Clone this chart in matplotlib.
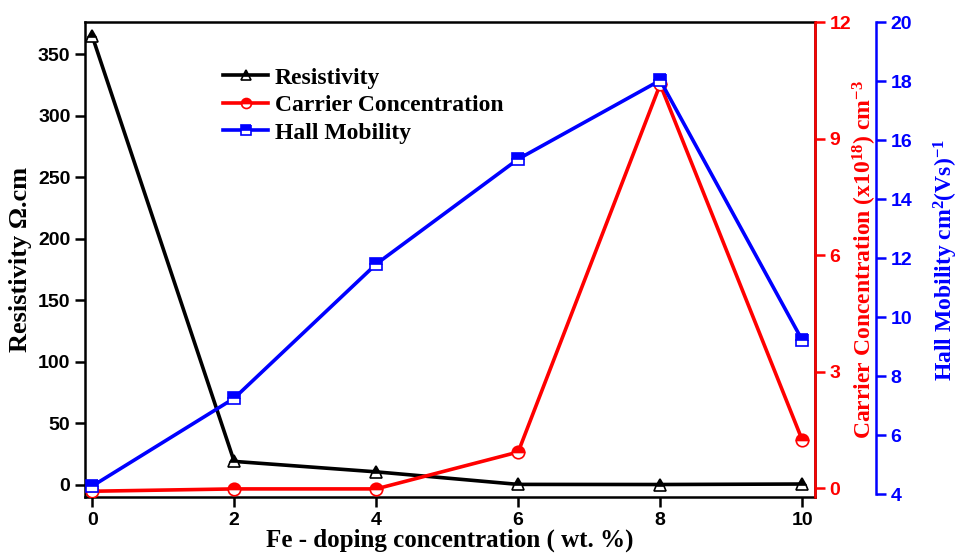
import matplotlib
matplotlib.use('Agg')
import matplotlib.pyplot as plt

# Fe doping levels (wt. %)
doping = [0, 2, 4, 6, 8, 10]

resistivity = [365, 19, 10.5, 0.3, 0.2, 0.6]          # ohm.cm
carrier_conc = [-0.08, -0.02, -0.02, 0.93, 10.4, 1.24]  # x10^18 cm^-3
hall_mobility = [4.27, 7.25, 11.8, 15.36, 18.03, 9.22]  # cm^2/Vs

plt.rcParams['font.family'] = 'Liberation Sans'
plt.rcParams['font.weight'] = 'bold'
plt.rcParams['font.size'] = 14
plt.rcParams['mathtext.fontset'] = 'custom'
plt.rcParams['mathtext.rm'] = 'Liberation Serif:bold'
plt.rcParams['mathtext.bf'] = 'Liberation Serif:bold'
plt.rcParams['mathtext.it'] = 'Liberation Serif:bold'

serif = 'Liberation Serif'

fig = plt.figure(figsize=(9.63, 5.56), dpi=100)
ax = fig.add_axes([0.0883, 0.106, 0.758, 0.854])
ax2 = ax.twinx()
ax3 = ax.twinx()

mk = dict(markersize=9, fillstyle='top', markerfacecoloralt='white', markeredgewidth=1.2)

l1, = ax.plot(doping, resistivity, color='black', lw=2.6, marker='^',
              markerfacecolor='black', markeredgecolor='black', label='Resistivity', **mk)
l2, = ax2.plot(doping, carrier_conc, color='red', lw=2.6, marker='o',
               markerfacecolor='red', markeredgecolor='red', label='Carrier Concentration', **mk)
l3, = ax3.plot(doping, hall_mobility, color='blue', lw=2.6, marker='s',
               markerfacecolor='blue', markeredgecolor='blue', label='Hall Mobility', **mk)

ax.set_xlim(-0.1, 10.18)
ax.set_ylim(-10, 376)
ax2.set_ylim(-0.23, 12)
ax3.set_ylim(3.9, 20)

# offset of the blue axis is in points (61 px at 100 dpi)
ax3.spines['right'].set_position(('outward', 44))
ax3.spines['right'].set_bounds(4, 20)

ax.set_xticks(doping)
ax.set_yticks(range(0, 351, 50))
ax2.set_yticks([0, 3, 6, 9, 12])
ax3.set_yticks(range(4, 21, 2))

for a in (ax, ax2, ax3):
    for s in a.spines.values():
        s.set_linewidth(1.8)

ax.tick_params(axis='both', direction='out', length=7, width=1.8, colors='black', labelsize=14)
ax2.tick_params(axis='y', direction='out', length=7, width=1.8, colors='red', labelsize=14)
ax3.tick_params(axis='y', direction='out', length=7, width=1.8, colors='blue', labelsize=14)

ax2.spines['right'].set_color('red')
ax3.spines['right'].set_color('blue')
for a in (ax2, ax3):
    a.spines['left'].set_visible(False)
    a.spines['top'].set_visible(False)
    a.spines['bottom'].set_visible(False)

ax.set_xlabel('Fe - doping concentration ( wt. %)', family=serif, weight='bold',
              fontsize=18, labelpad=0)
ax.set_ylabel('Resistivity \u03a9.cm', family=serif, weight='bold', fontsize=19, labelpad=4)
ax2.set_ylabel('Carrier Concentration (x10$^{18}$) cm$^{-3}$', family=serif, weight='bold',
               fontsize=17, color='red', labelpad=0)
ax3.set_ylabel('Hall Mobility cm$^{2}$(Vs)$^{-1}$', family=serif, weight='bold',
               fontsize=17, color='blue', labelpad=14)

ax.legend(handles=[l1, l2, l3], loc='upper left', bbox_to_anchor=(0.16, 0.95),
          frameon=False, handlelength=1.9, handletextpad=0.3, labelspacing=0.25,
          prop={'family': serif, 'weight': 'bold', 'size': 17}, markerscale=0.8)

fig.savefig('out.png', dpi=100)
